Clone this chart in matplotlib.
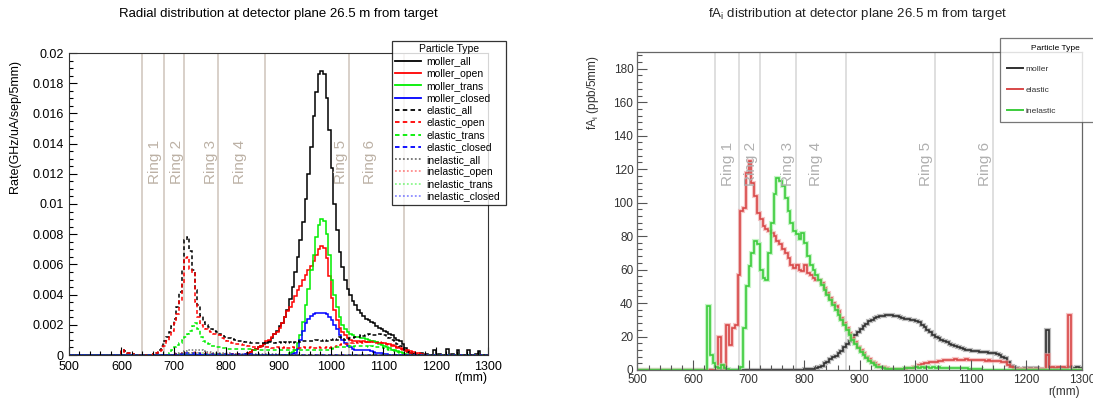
# Radial rate and fA_i distributions at the detector plane
import numpy as np
import matplotlib
matplotlib.use('Agg')
import matplotlib.pyplot as plt
from matplotlib.lines import Line2D
from matplotlib.ticker import MultipleLocator, FuncFormatter

plt.rcParams['font.family'] = ['Liberation Sans', 'DejaVu Sans']

# 5 mm bins, 500..1300 mm
r_edges = np.arange(500, 1305, 5)

ring_edges = [640, 682, 720, 785, 875, 1035, 1140]
ring_names = ['Ring 1', 'Ring 2', 'Ring 3', 'Ring 4', 'Ring 5', 'Ring 6']
ring_text_left = [664, 707, 772, 826, 1020, 1074]
ring_text_right = [663, 705, 771, 822, 1020, 1125]

# ---- left panel: rate in units of 1e-3 GHz/uA/sep/5mm, (first bin, values)
moller_all_start = 840
moller_all = [0.1, 0.2, 0.3, 0.4, 0.5, 0.6, 0.7, 0.8,
              0.9, 1.1, 1.4, 1.6, 1.9, 2.1, 2.5, 3.0,
              3.7, 4.5, 5.5, 6.5, 7.6, 8.8, 10.3, 12.0,
              13.8, 15.8, 17.4, 18.6, 18.8, 18.6, 17.0, 14.9,
              12.4, 10.0, 8.3, 6.8, 5.8, 5.0, 4.4, 4.0,
              3.6, 3.3, 3.0, 2.8, 2.6, 2.4, 2.3, 2.2,
              2.1, 1.95, 1.8, 1.7, 1.6, 1.5, 1.4, 1.3,
              1.15, 1.0, 0.9, 0.7, 0.45, 0.25, 0.1, 0.05,
              0, 0, 0.1, 0, 0.05, 0, 0, 0.3, 0, 0.05, 0, 0, 0.4, 0,
              0.05, 0, 0.3, 0, 0, 0, 0.3, 0, 0, 0.05, 0.25, 0]
moller_open_start = 840
moller_open = [0.1, 0.2, 0.3, 0.4, 0.5, 0.6, 0.75, 0.9,
               1.0, 1.2, 1.4, 1.55, 1.8, 2.1, 2.5, 2.9,
               3.2, 3.5, 3.9, 4.3, 4.6, 5.0, 5.3, 5.6,
               5.9, 6.2, 6.6, 7.0, 7.2, 7.1, 6.4, 5.2,
               3.8, 3.0, 2.3, 1.8, 1.5, 1.3, 1.1, 1.0,
               0.95, 0.9, 0.9, 0.85, 0.9, 0.85, 0.85, 0.9,
               0.85, 0.85, 0.8, 0.8, 0.8, 0.75, 0.7, 0.65,
               0.6, 0.5, 0.45, 0.4, 0.35, 0.3, 0.25, 0.2,
               0.15, 0.1, 0.05]
moller_trans_start = 920
moller_trans = [0.1, 0.2, 0.35, 0.8, 1.3, 2.2, 3.3, 4.4,
                5.6, 6.6, 7.8, 8.6, 9.0, 8.9, 8.0, 6.6,
                5.0, 4.0, 3.2, 2.5, 2.0, 1.7, 1.5, 1.4,
                1.3, 1.2, 1.2, 1.15, 1.1, 1.05, 1.0, 0.95,
                0.9, 0.85, 0.75, 0.65, 0.6, 0.5, 0.45, 0.35,
                0.3, 0.25, 0.2, 0.1, 0.05]
moller_closed_start = 925
moller_closed = [0.05, 0.15, 0.4, 1.0, 1.6, 2.1, 2.4, 2.6, 2.7, 2.8,
                 2.8, 2.8, 2.75, 2.7, 2.5, 2.3, 2.0, 1.7, 1.3, 1.0,
                 0.8, 0.6, 0.5, 0.4, 0.35, 0.3, 0.3, 0.35, 0.35, 0.3,
                 0.25, 0.2, 0.15, 0.1, 0.1, 0.05, 0.05]
elastic_all_start = 600
elastic_all = [0.35, 0.25, 0.15, 0.1, 0.05, 0, 0, 0, 0, 0, 0, 0,
               0.05, 0.15, 0.3, 0.6, 0.9, 1.2, 1.5, 1.9,
               2.4, 3.2, 4.2, 5.6, 7.6, 7.8, 6.9, 5.6,
               4.3, 3.3, 2.6, 2.2, 2.0, 1.85, 1.7, 1.6,
               1.5, 1.4, 1.3, 1.2, 1.15, 1.1, 1.05, 1.0,
               0.95, 0.9, 0.9, 0.85, 0.85, 0.8, 0.8, 0.8,
               0.8, 0.8, 0.8, 0.85, 0.85, 0.85, 0.8, 0.85,
               0.85, 0.8, 0.85, 0.8, 0.85, 0.8, 0.85, 0.9,
               0.85, 0.9, 0.95, 0.9, 0.95, 0.9, 1.0, 0.95,
               0.95, 1.0, 0.95, 0.95, 1.0, 1.05, 1.0, 1.2,
               1.1, 1.0, 1.05, 1.1, 1.15, 1.2, 1.2, 1.3,
               1.25, 1.3, 1.4, 1.3, 1.35, 1.35, 1.4, 1.35,
               1.3, 1.2, 1.1, 1.0, 0.9, 0.75, 0.6, 0.45,
               0.3, 0.2, 0.1, 0.05]
elastic_open_start = 600
elastic_open = [0.3, 0.2, 0.15, 0.1, 0.05, 0, 0, 0, 0, 0, 0, 0,
                0.05, 0.1, 0.2, 0.35, 0.6, 0.9, 1.2, 1.6,
                2.1, 2.7, 3.6, 4.8, 6.4, 6.5, 5.7, 5.4,
                3.5, 2.5, 2.0, 1.8, 1.7, 1.6, 1.5, 1.4,
                1.35, 1.3, 1.15, 1.0, 0.9, 0.85, 0.8, 0.75,
                0.7, 0.7, 0.65, 0.65, 0.6, 0.6, 0.55, 0.55,
                0.5, 0.5, 0.5, 0.5, 0.5, 0.45, 0.45, 0.5,
                0.45, 0.45, 0.5, 0.45, 0.45, 0.5, 0.45, 0.45,
                0.45, 0.5, 0.45, 0.45, 0.5, 0.45, 0.45, 0.5,
                0.45, 0.45, 0.5, 0.45, 0.5, 0.55, 0.6, 0.65,
                0.7, 0.7, 0.75, 0.8, 0.8, 0.85, 0.8, 0.85,
                0.8, 0.85, 0.9, 0.85, 0.85, 0.8, 0.85, 0.8,
                0.75, 0.7, 0.65, 0.6, 0.5, 0.45, 0.4, 0.3,
                0.25, 0.2, 0.15, 0.1, 0.05]
elastic_trans_start = 690
elastic_trans = [0.1, 0.3,
                 0.5, 0.65, 0.8, 1.0, 1.2, 1.4, 1.6, 1.9,
                 2.1, 1.7, 1.2, 0.95, 0.8, 0.7, 0.62, 0.58,
                 0.55, 0.5, 0.45, 0.45, 0.4, 0.4, 0.4, 0.4,
                 0.4, 0.4, 0.4, 0.4, 0.4, 0.4, 0.35, 0.35,
                 0.35, 0.35, 0.35, 0.35, 0.35, 0.35, 0.35, 0.35,
                 0.35, 0.35, 0.3, 0.35, 0.35, 0.3, 0.35, 0.35,
                 0.3, 0.35, 0.35, 0.3, 0.35, 0.35, 0.35, 0.35,
                 0.35, 0.35, 0.35, 0.35, 0.4, 0.45, 0.5, 0.5,
                 0.55, 0.5, 0.55, 0.6, 0.55, 0.6, 0.6, 0.6,
                 0.6, 0.6, 0.55, 0.6, 0.55, 0.55, 0.5, 0.5,
                 0.45, 0.4, 0.35, 0.3, 0.25, 0.2, 0.15, 0.1,
                 0.05]
elastic_closed_start = 700
elastic_closed = [0.03, 0.05, 0.07, 0.09, 0.1, 0.12, 0.12, 0.12, 0.1, 0.1,
                  0.09, 0.08, 0.07, 0.07, 0.06, 0.06, 0.05, 0.05, 0.05, 0.05,
                  0.05, 0.05, 0.05, 0.04, 0.04, 0.04, 0.04, 0.04, 0.04, 0.04]
inelastic_all_start = 700
inelastic_all = [0.05, 0.1, 0.15, 0.2, 0.25, 0.3, 0.32, 0.35, 0.35, 0.32,
                 0.3, 0.25, 0.22, 0.2, 0.18, 0.15, 0.14, 0.12, 0.12, 0.1,
                 0.1, 0.1, 0.09, 0.09, 0.08, 0.08, 0.08, 0.07, 0.07, 0.07,
                 0.06, 0.06, 0.06, 0.05, 0.05, 0.05, 0.05, 0.05, 0.05, 0.05]
inelastic_open_start = 700
inelastic_open = [0.03, 0.05, 0.08, 0.1, 0.12, 0.15, 0.15, 0.17, 0.17, 0.15,
                  0.14, 0.12, 0.1, 0.1, 0.08, 0.08, 0.07, 0.06, 0.06, 0.05,
                  0.05, 0.05, 0.04, 0.04, 0.04, 0.03]
inelastic_trans_start = 700
inelastic_trans = [0.02, 0.03, 0.05, 0.06, 0.08, 0.1, 0.1, 0.12, 0.12, 0.1,
                   0.1, 0.09, 0.08, 0.07, 0.06, 0.05, 0.05, 0.04, 0.04, 0.03]
inelastic_closed_start = 700
inelastic_closed = [0.01, 0.02, 0.03, 0.04, 0.05, 0.05, 0.05, 0.05, 0.04, 0.04,
                    0.03, 0.03, 0.02, 0.02]

# ---- right panel: fA_i in ppb/5mm
fa_moller_start = 800
fa_moller = [0.3, 0.3, 0.4, 0.5, 1, 1.5, 2.5, 4,
             5, 6.5, 7.5, 8.5, 10, 11.5, 13.5, 15.5,
             17.5, 19, 21, 23, 24.5, 26, 27.5, 29,
             30, 31, 31.5, 32, 32.5, 32.8, 33, 32.8,
             32.5, 32, 31.5, 31, 30.5, 30.3, 30, 29.8,
             29.5, 28.5, 27, 25.5, 24, 22.5, 21, 20,
             19, 18, 17.3, 16.5, 15.8, 15, 14.3, 13.8,
             13.2, 12.7, 12.2, 11.8, 11.5, 11.3, 11.2, 11,
             10.8, 10.5, 10.3, 10.2, 10, 9.5, 9, 8,
             7, 5, 2.5, 1.5, 1, 0.8, 0.5, 1,
             0.5, 1, 0.5, 1, 0.5, 0.8, 0.5, 24,
             0.5, 1, 0.5, 1, 0.5, 1, 0.5, 1.5,
             0.8, 1, 2, 1]
fa_elastic_start = 640
fa_elastic = [0, 19.5, 3, 0, 27, 15, 25, 27,
              57, 95, 97, 118, 125, 112, 104, 94,
              90, 86, 84, 83, 82, 80, 77, 75,
              72, 70, 67, 63, 61, 63, 60, 59,
              63, 58, 57, 55, 54, 54, 52, 49,
              46, 43, 40, 38, 35, 31, 28, 25,
              22, 19, 16.5, 14, 12, 10, 8, 6.5,
              5, 4, 3, 2, 1.5, 1, 0.7, 0.5,
              0.5, 0.5, 0.5, 0.6, 0.8, 1, 1.2, 1.5,
              2, 3, 3.5, 4, 4, 4.5, 5, 5,
              5.5, 5.5, 6, 6, 6.2, 6, 6.3, 6,
              6.2, 6, 6.3, 6, 6.2, 6, 5.8, 6,
              5.8, 5.6, 5.8, 5.5, 5.6, 5.4, 5.2, 5,
              4.5, 3, 1.5, 0.5, 0.3, 0.3, 0.3, 0.3,
              0.3, 0.3, 0.3, 0.3, 0.3, 0.3, 0.3, 9,
              1, 2, 1, 2, 1.5, 2, 1, 33]
fa_inelastic_start = 620
fa_inelastic = [0, 38, 9, 4, 2, 1, 3, 1, 0.5, 0, 0, 0, 0, 2,
                25, 50, 62, 70, 77, 75, 60, 55, 54, 70,
                88, 105, 115, 113, 110, 103, 95, 88,
                83, 81, 78, 82, 76, 68, 63, 60,
                57, 54, 51, 48, 45, 42, 39, 36,
                33, 30, 27, 24, 21, 18, 15.5, 13,
                11, 9, 7, 5.5, 4, 3, 2, 1.5,
                1, 0.6, 0.5, 0.5, 0.5, 0.6, 0.5, 0.8,
                1, 1.2, 1, 1.3, 1.5, 1.2, 1.5, 1.3,
                1.5, 1.2, 1.5, 1.3, 1.5, 1.2, 1.4, 1.3,
                1.2, 1.3, 1.2, 1.0, 1.2, 1.0, 1.0, 0.8,
                0.8, 0.6, 0.5, 0.3]


def padded(start, vals):
    out = np.zeros(len(r_edges) - 1)
    i = (start - 500) // 5
    out[i:i + len(vals)] = vals
    return out


fig = plt.figure(figsize=(10.93, 4.0), dpi=100)

# ================= left panel =================
ax = fig.add_axes([69 / 1093, 45 / 400, 419 / 1093, 302 / 400])
for x in ring_edges:
    ax.axvline(x, color='#d5cdc5', lw=1.3, zorder=0)
for name, x in zip(ring_names, ring_text_left):
    ax.text(x, 0.0128, name, rotation=90, ha='center', va='center',
            fontsize=11, color='#bcb1a5')

dashed = (0, (2.5, 1.8))
dotted = (0, (1, 1.2))
left_series = [
    ('moller_all', moller_all_start, moller_all, 'black', '-', 1),
    ('moller_open', moller_open_start, moller_open, 'red', '-', 1),
    ('moller_trans', moller_trans_start, moller_trans, '#00ee00', '-', 1),
    ('moller_closed', moller_closed_start, moller_closed, 'blue', '-', 1),
    ('elastic_all', elastic_all_start, elastic_all, 'black', dashed, 1),
    ('elastic_open', elastic_open_start, elastic_open, 'red', dashed, 1),
    ('elastic_trans', elastic_trans_start, elastic_trans, '#00ee00', dashed, 1),
    ('elastic_closed', elastic_closed_start, elastic_closed, 'blue', dashed, 1),
    ('inelastic_all', inelastic_all_start, inelastic_all, 'black', dotted, 0.55),
    ('inelastic_open', inelastic_open_start, inelastic_open, 'red', dotted, 0.45),
    ('inelastic_trans', inelastic_trans_start, inelastic_trans, '#00ee00', dotted, 0.45),
    ('inelastic_closed', inelastic_closed_start, inelastic_closed, 'blue', dotted, 0.45),
]
handles = []
for name, start, vals, col, ls, al in left_series:
    ax.stairs(padded(start, vals) * 1e-3, r_edges, color=col, ls=ls, lw=1.1, alpha=al)
    handles.append(Line2D([], [], color=col, ls=ls, lw=1.3, alpha=al, label=name))

ax.set_xlim(500, 1300)
ax.set_ylim(0, 0.02)
ax.xaxis.set_major_locator(MultipleLocator(100))
ax.xaxis.set_minor_locator(MultipleLocator(20))
ax.yaxis.set_major_locator(MultipleLocator(0.002))
ax.yaxis.set_minor_locator(MultipleLocator(0.0005))
ax.yaxis.set_major_formatter(FuncFormatter(lambda v, p: '%g' % round(v, 4)))
ax.tick_params(which='both', direction='in', top=False, right=False, labelsize=9)
ax.tick_params(which='major', length=6, width=0.8, pad=4)
ax.tick_params(which='minor', length=3, width=0.8)
for s in ax.spines.values():
    s.set_linewidth(0.8)
    s.set_color('#333333')

fig.text(278 / 1093, 1 - 14 / 400, 'Radial distribution at detector plane 26.5 m from target',
         ha='center', va='center', fontsize=9.5)
fig.text(15 / 1093, 1 - 60 / 400, 'Rate(GHz/uA/sep/5mm)', rotation=90,
         ha='center', va='top', fontsize=9)
fig.text(487 / 1093, 1 - 378 / 400, 'r(mm)', ha='right', va='center', fontsize=9)

leg = fig.legend(handles=handles, title='Particle Type', loc='upper left',
                 bbox_to_anchor=(392 / 1093, 1 - 205 / 400, 114 / 1093, 164 / 400),
                 mode='expand', fontsize=7.5, title_fontsize=7.5, frameon=True,
                 fancybox=False, edgecolor='black', handlelength=2.5,
                 handletextpad=0.5, labelspacing=0.22, borderpad=0.3,
                 borderaxespad=0)
leg.get_frame().set_linewidth(0.9)

# ================= right panel =================
ax2 = fig.add_axes([637.5 / 1093, 30 / 400, 444.5 / 1093, 318 / 400])
for x in ring_edges:
    ax2.axvline(x, color='#d6d6d6', lw=1.1, zorder=0)
for name, x in zip(ring_names, ring_text_right):
    ax2.text(x, 123, name, rotation=90, ha='center', va='center',
             fontsize=11, color='#b0b0b0')

right_series = [
    ('moller', fa_moller_start, fa_moller, '#303030', '#909090'),
    ('elastic', fa_elastic_start, fa_elastic, '#d84848', '#f0a0a0'),
    ('inelastic', fa_inelastic_start, fa_inelastic, '#3ccc3c', '#a0eea0'),
]
handles2 = []
for name, start, vals, col, halo in right_series:
    v = padded(start, vals)
    ax2.stairs(v, r_edges, color=halo, lw=3.0, alpha=0.6)
    ax2.stairs(v, r_edges, color=col, lw=1.2)
    handles2.append(Line2D([], [], color=col, lw=1.4, label=name))

ax2.set_xlim(500, 1300)
ax2.set_ylim(0, 190)
ax2.xaxis.set_major_locator(MultipleLocator(100))
ax2.xaxis.set_minor_locator(MultipleLocator(20))
ax2.yaxis.set_major_locator(MultipleLocator(20))
ax2.yaxis.set_minor_locator(MultipleLocator(4))
ax2.tick_params(which='both', direction='in', top=False, right=False,
                labelsize=8.5, colors='#555555', labelcolor='#333333')
ax2.tick_params(which='major', length=7, width=0.8, pad=3)
ax2.tick_params(which='minor', length=3.5, width=0.8)
for s in ax2.spines.values():
    s.set_linewidth(0.9)
    s.set_color('#666666')

fig.text(858 / 1093, 1 - 14 / 400,
         r'f$\mathregular{A_i}$ distribution at detector plane 26.5 m from target',
         ha='center', va='center', fontsize=9.5, color='#222222')
fig.text(593 / 1093, 1 - 55 / 400, r'f$\mathregular{A_i}$ (ppb/5mm)', rotation=90,
         ha='center', va='top', fontsize=8.5, color='#333333')
fig.text(1080 / 1093, 1 - 392 / 400, 'r(mm)', ha='right', va='center',
         fontsize=8.5, color='#333333')

leg2 = fig.legend(handles=handles2, title='Particle Type', loc='upper left',
                  bbox_to_anchor=(1000 / 1093, 1 - 120 / 400, 110 / 1093, 82 / 400),
                  mode='expand', fontsize=6, title_fontsize=6, frameon=True,
                  fancybox=False, edgecolor='#555555', handlelength=2.0,
                  handletextpad=0.3, labelspacing=1.6, borderpad=0.8,
                  borderaxespad=0)
leg2.get_frame().set_linewidth(0.9)
for t in leg2.get_texts():
    t.set_color('#333333')

fig.savefig('out.png', dpi=100)
